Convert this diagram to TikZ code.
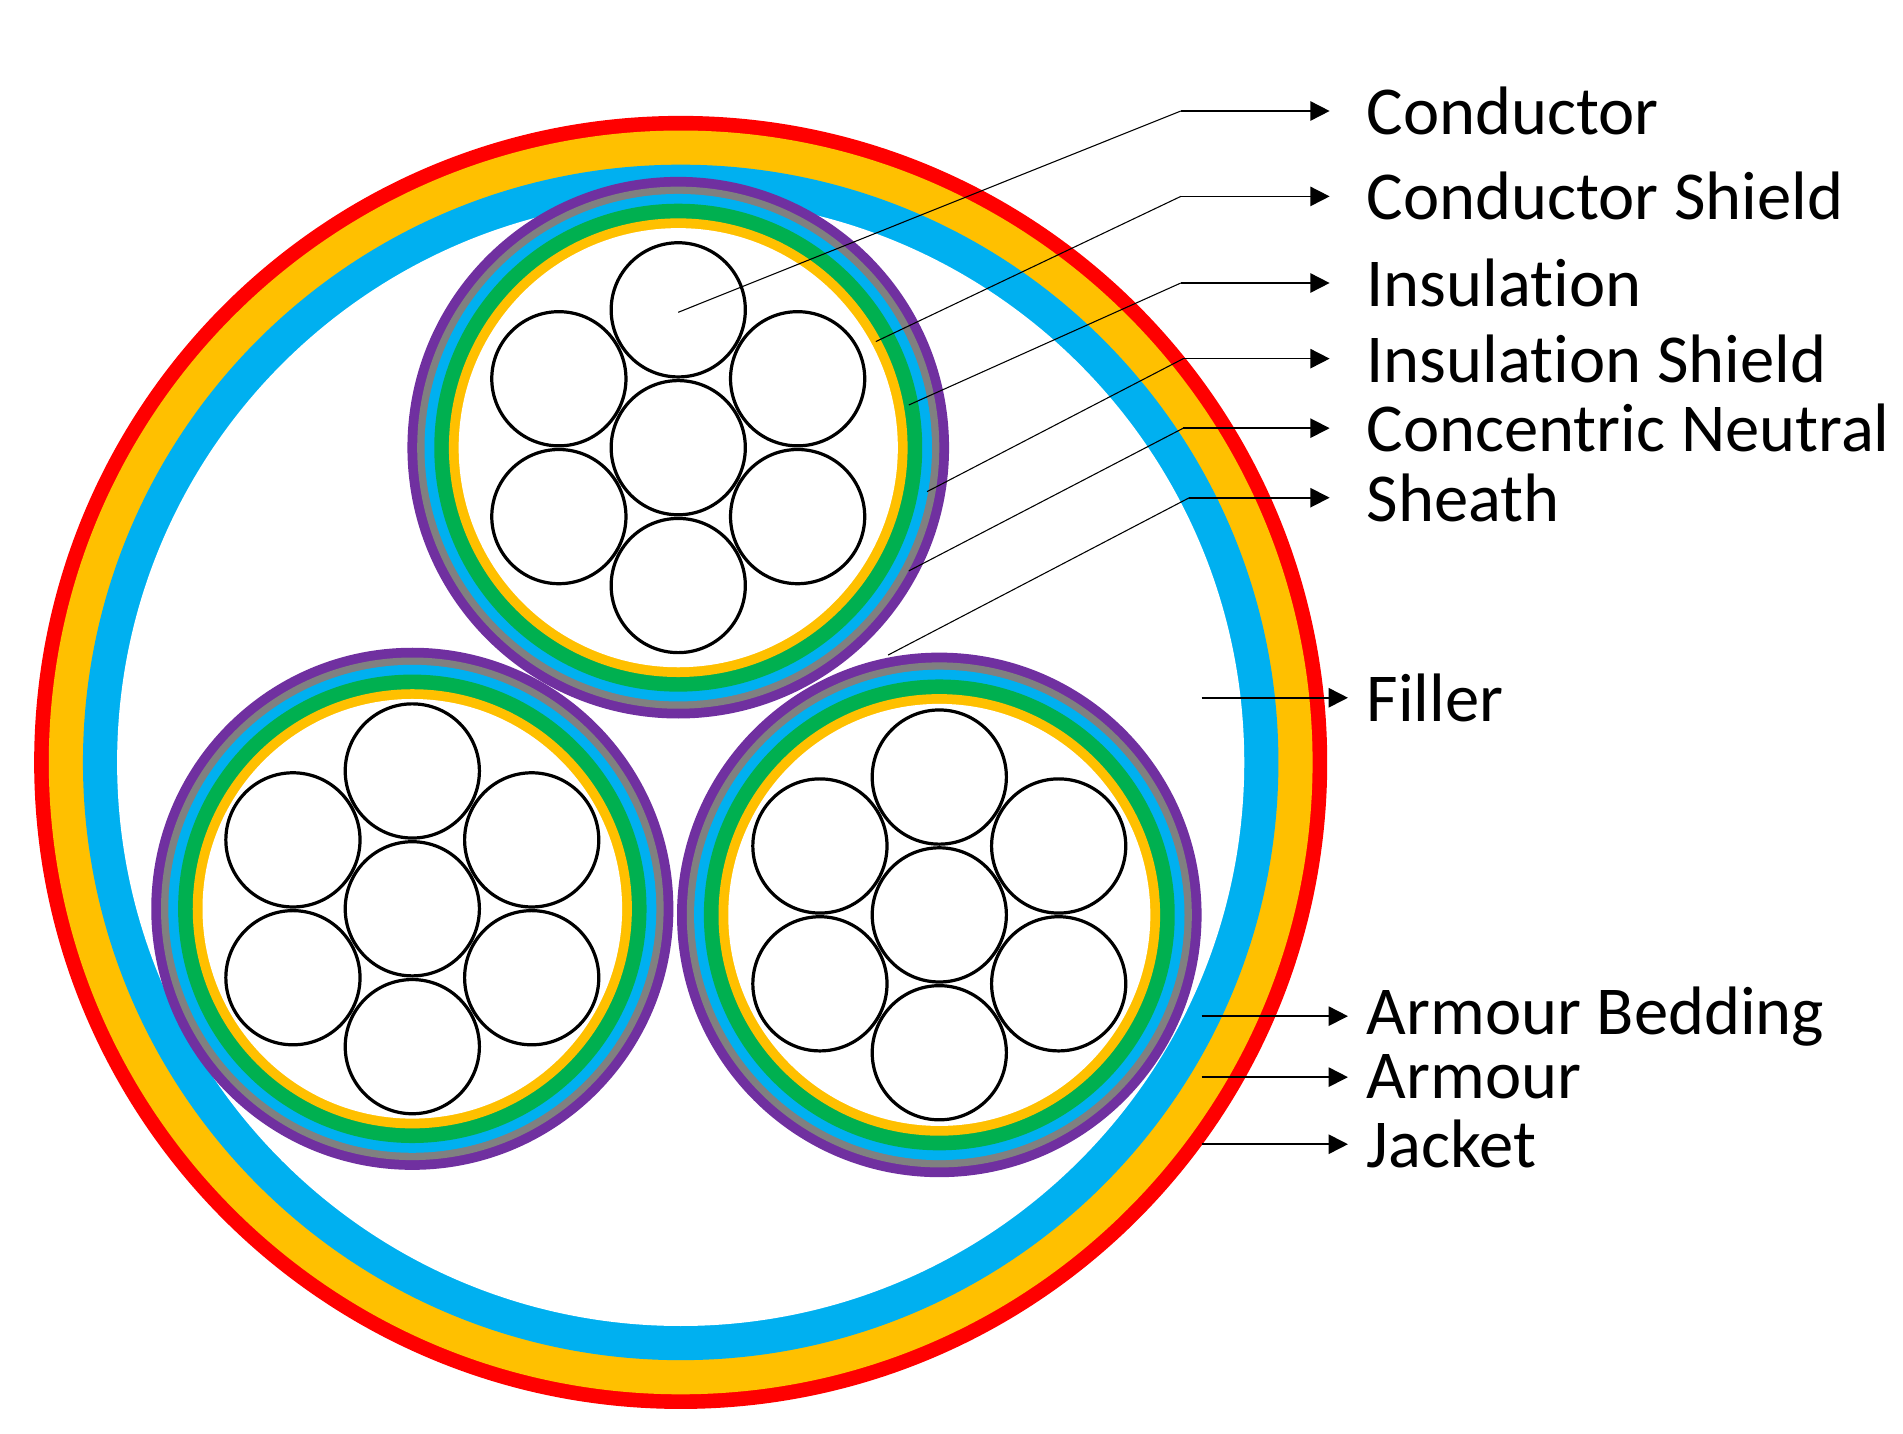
\documentclass[tikz,border=0pt]{standalone}
\usepackage{fontspec}
\setmainfont[Ligatures=NoCommon]{Carlito}
\usetikzlibrary{arrows.meta,calc}
\definecolor{cred}{HTML}{FF0000}
\definecolor{cyel}{HTML}{FFC000}
\definecolor{cblu}{HTML}{00B0F0}
\definecolor{cgrn}{HTML}{00B050}
\definecolor{cpur}{HTML}{7030A0}
\definecolor{cgry}{HTML}{808080}
\begin{document}
\begin{tikzpicture}[x=0.02cm,y=-0.02cm,
  lead/.style={draw=black,line width=0.5pt},
  arr/.style={-{Triangle[length=9pt,width=9pt]},line width=0.8pt},
  lab/.style={anchor=west,font=\fontsize{32}{36}\selectfont,inner sep=0pt},
  strand/.style={draw=black,line width=1.5pt,fill=white}]
\useasboundingbox (0,0) rectangle (1560,1175);
% outer layers
\fill[cred] (558,625) circle (530);
\fill[cyel] (558,625) circle (518);
\fill[cblu] (558,625) circle (490);
\fill[white] (558,625) circle (462);
% sub cables
\foreach \cx/\cy/\R [count=\i] in {556/367/222, 338/745/214, 770/750/215}{
  \fill[cpur] (\cx,\cy) circle (\R);
  \fill[cgry] (\cx,\cy) circle (\R-8);
  \fill[cblu] (\cx,\cy) circle (\R-14);
  \fill[cgrn] (\cx,\cy) circle (\R-22);
  \fill[cyel] (\cx,\cy) circle (\R-34);
  \fill[white] (\cx,\cy) circle (\R-42);
  \draw[strand] (\cx,\cy) circle (55);
  \foreach \a in {90,150,210,270,330,30}
    \draw[strand] ($(\cx,\cy)+(\a:113)$) circle (55);
}
% labels
\foreach \name/\txt/\sx/\sy/\ex/\ey in {
  c/Conductor/556/256/968/91,
  cs/Conductor Shield/718/280/968/161,
  ins/Insulation/745/332/968/232,
  is/Insulation Shield/760/403/970/294,
  cn/Concentric Neutral/745/468/970/351,
  sh/Sheath/728/537/975/408}{
  \coordinate (s\name) at (\sx,\sy);
  \coordinate (e\name) at (\ex,\ey);
  \node[lab] (t\name) at (1120,\ey) {\txt};
  \draw[lead] (s\name) -- (e\name);
  \draw[arr] (e\name) -- ($(t\name.west)+(-30,0)$);
}
\foreach \name/\txt/\y in {f/Filler/572, ab/Armour Bedding/833, ar/Armour/883, j/Jacket/938}{
  \coordinate (s\name) at (985,\y);
  \node[lab] (t\name) at (1120,\y) {\txt};
  \draw[arr] (s\name) -- ($(t\name.west)+(-15,0)$);
}
\end{tikzpicture}
\end{document}
